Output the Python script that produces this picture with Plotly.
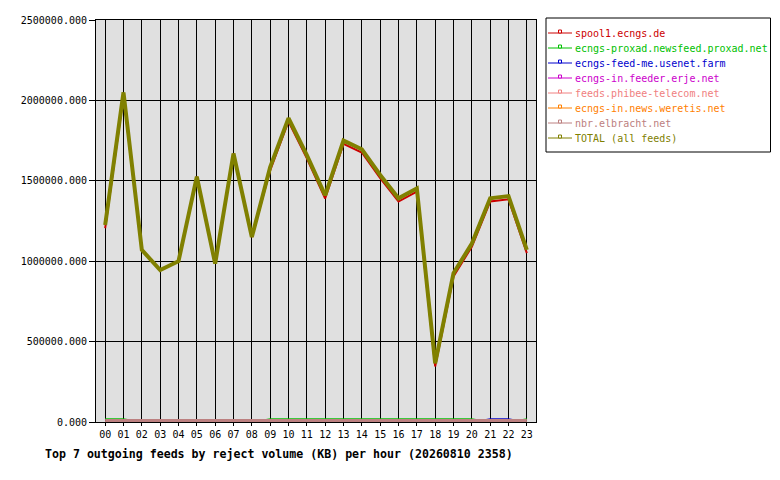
import plotly.graph_objects as go

hours = ["%02d" % h for h in range(24)]

feeds = [
    "spool1.ecngs.de",
    "ecngs-proxad.newsfeed.proxad.net",
    "ecngs-feed-me.usenet.farm",
    "ecngs-in.feeder.erje.net",
    "feeds.phibee-telecom.net",
    "ecngs-in.news.weretis.net",
    "nbr.elbracht.net",
    "TOTAL (all feeds)",
]
colors = ["#cc0000", "#00c000", "#0000cc", "#cc00cc", "#f08080", "#ff8000", "#bc8080", "#808000"]

# reject volume (KB) per hour
spool1 = [1205000, 2030000, 1070000, 945000, 1000000, 1525000, 985000, 1670000, 1150000, 1565000, 1869000, 1640000,
          1390000, 1730000, 1676000, 1516000, 1371000, 1433000, 345000, 905000, 1090000, 1371000, 1385000, 1050000]
proxad = [20000, 20000, 0, 0, 0, 0, 0, 0, 0, 20000, 20000, 20000,
          20000, 20000, 20000, 20000, 20000, 20000, 20000, 20000, 20000, 0, 0, 20000]
usenet_farm = [0, 0, 0, 0, 0, 0, 0, 0, 0, 0, 0, 0,
               0, 0, 0, 0, 0, 0, 0, 0, 0, 20000, 20000, 0]
erje = [0] * 24
phibee = [0] * 24
weretis = [0] * 24
elbracht = [0] * 24
total = [1225000, 2050000, 1070000, 945000, 1000000, 1525000, 985000, 1670000, 1150000, 1585000, 1889000, 1660000,
         1410000, 1750000, 1696000, 1536000, 1391000, 1453000, 365000, 925000, 1110000, 1391000, 1405000, 1070000]

series = [spool1, proxad, usenet_farm, erje, phibee, weretis, elbracht, total]
widths = [2, 1, 1, 1, 1, 1, 6, 4]

mono = "DejaVu Sans Mono"

# the page puts the figure 8px in from the corner; keep it small enough that no scrollbar appears
# plot area on screen is x 96..536, y 20..422
OFF = 8
W, H = 780 - OFF, 480 - 2 * OFF
X0, X1, Y0, Y1 = 96, 536, 20, 422
L, T = X0 - OFF, Y0 - OFF
R, B = W - (X1 - OFF), H - (Y1 - OFF)


def px(x):
    return (x - X0) / (X1 - X0)


def py(y):
    return (Y1 - y) / (Y1 - Y0)


fig = go.Figure()
for name, color, values, w in zip(feeds, colors, series, widths):
    fig.add_trace(go.Scatter(
        x=list(range(24)), y=values, mode="lines", name=name,
        line=dict(color=color, width=w),
    ))

fig.update_layout(
    width=W, height=H,
    margin=dict(l=L, r=R, t=T, b=B, autoexpand=False),
    paper_bgcolor="white", plot_bgcolor="#e0e0e0",
    font=dict(family=mono, size=10, color="black"),
    showlegend=False,
)
fig.update_xaxes(
    range=[-0.5, 23.5], tickvals=list(range(24)), ticktext=hours,
    showgrid=True, gridcolor="black", gridwidth=1,
    showline=True, linecolor="black", linewidth=1, mirror=True,
    ticks="outside", ticklen=3, tickcolor="black", zeroline=False,
)
fig.update_yaxes(
    range=[0, 2500000], dtick=500000, tickformat=".3f",
    showgrid=True, gridcolor="black", gridwidth=1,
    showline=True, linecolor="black", linewidth=1, mirror=True,
    ticks="outside", ticklen=6, tickcolor="black", zeroline=False,
)

# legend box drawn by hand to get the tight 15px rows
fig.add_shape(type="rect", xref="paper", yref="paper",
              x0=px(546), x1=px(770.5), y0=py(18), y1=py(152),
              line=dict(color="black", width=1), fillcolor="white", layer="above")
for i, (name, color) in enumerate(zip(feeds, colors)):
    yy = 33 + 15 * i
    fig.add_shape(type="line", xref="paper", yref="paper",
                  x0=px(548), x1=px(572), y0=py(yy), y1=py(yy),
                  line=dict(color=color, width=1), layer="above")
    fig.add_shape(type="rect", xref="paper", yref="paper",
                  x0=px(558.5), x1=px(561.5), y0=py(yy), y1=py(yy - 3),
                  line=dict(color=color, width=1), fillcolor="white", layer="above")
    fig.add_annotation(text=name, xref="paper", yref="paper", x=px(573), y=py(yy),
                       xanchor="left", yanchor="middle", showarrow=False,
                       font=dict(family=mono, size=10, color=color))

fig.add_annotation(
    text="<b>Top 7 outgoing feeds by reject volume (KB) per hour (20260810 2358)</b>",
    xref="paper", yref="paper", x=px(43), y=py(445), xanchor="left", yanchor="top",
    showarrow=False, font=dict(family=mono, size=11.6, color="black"),
)

fig.write_html("out.html")
